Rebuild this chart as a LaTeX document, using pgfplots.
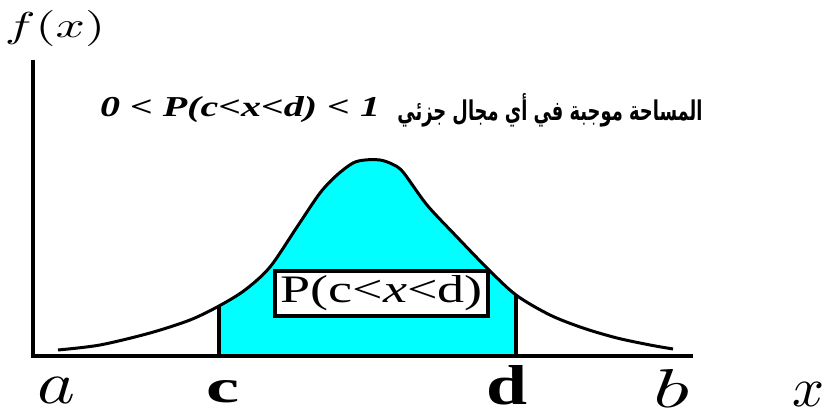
\documentclass[border=0pt]{standalone}
\usepackage{pgfplots}
\pgfplotsset{compat=1.18}
\usepgfplotslibrary{fillbetween}
\usepackage{fontspec}
\setmainfont{Liberation Serif}
\newfontfamily\arabicfont[Script=Arabic]{DejaVu Sans}
\TeXXeTstate=1
\definecolor{aqua}{RGB}{0,255,255}

\begin{document}
\begin{tikzpicture}
\begin{axis}[
  width=826pt, height=417pt, scale only axis,
  xmin=0, xmax=826, ymin=0, ymax=417,
  hide axis, clip=false]

% density curve f(x)
\addplot[name path=curve, draw=none, smooth] coordinates {
  (58,67) (100,72) (150,84) (190,97) (219,111) (245,127) (270,150)
  (297,190) (320,224) (337,242) (353,254) (365,257) (380,257)
  (392,253) (403,245) (427,212) (457,180) (487,149) (516,122)
  (550,102) (583,89) (617,79) (650,72) (673,68)};
\addplot[name path=base, draw=none] coordinates {(33,61) (693,61)};

% area between c and d
\addplot[aqua] fill between[of=curve and base, soft clip={domain=219:516}];

\addplot[black, line width=3pt, smooth] coordinates {
  (58,67) (100,72) (150,84) (190,97) (219,111) (245,127) (270,150)
  (297,190) (320,224) (337,242) (353,254) (365,257) (380,257)
  (392,253) (403,245) (427,212) (457,180) (487,149) (516,122)
  (550,102) (583,89) (617,79) (650,72) (673,68)};

% bounds c and d
\addplot[black, line width=3.5pt] coordinates {(219,61) (219,111)};
\addplot[black, line width=3.5pt] coordinates {(516,61) (516,122)};

% axes
\addplot[black, line width=4pt] coordinates {(33,357) (33,61) (693,61)};

\path (axis cs:0,0) rectangle (axis cs:826,417);

% probability label box
\node[draw=black, line width=3.5pt, fill=white, inner sep=0pt,
      minimum width=213pt, minimum height=45pt]
  at (axis cs:381.5,123.5)
  {\resizebox{202pt}{27pt}{P(c<\textit{x}<d)}};

% axis labels
\begin{scope}[every node/.style={inner sep=0pt}]
\node at (axis cs:55,388.5) {\resizebox*{100pt}{36pt}{$f(x)$}};
\node at (axis cs:57,27) {\resizebox{38pt}{26pt}{$a$}};
\node at (axis cs:223,25) {\resizebox{33pt}{22pt}{\bfseries c}};
\node at (axis cs:507,32) {\resizebox{41pt}{39pt}{\bfseries d}};
\node at (axis cs:671,29) {\resizebox{36pt}{38pt}{$b$}};
\node at (axis cs:808,23) {\resizebox{32pt}{24pt}{$x$}};

% statement
\node[anchor=base] at (axis cs:240,300)
  {\resizebox{280pt}{20pt}{\bfseries\itshape 0 < P(c<x<d) < 1}};
\node[anchor=base] at (axis cs:550,296)
  {\resizebox{305pt}{27pt}{\arabicfont\bfseries\beginR المساحة موجبة في أي مجال جزئي\endR}};
\end{scope}
\end{axis}
\end{tikzpicture}
\end{document}
